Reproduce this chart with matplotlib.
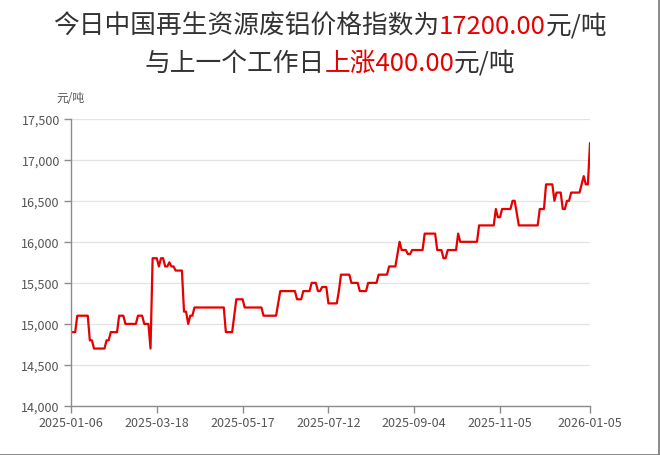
import numpy as np
import matplotlib
matplotlib.use('Agg')
import matplotlib.pyplot as plt
from matplotlib.ticker import FuncFormatter
from matplotlib.lines import Line2D

plt.rcParams['font.family'] = ['Noto Sans CJK SC', 'DejaVu Sans']

# price levels (yuan/ton) and how many working days each level lasted
levels = [14900, 15100, 14800, 14700, 14800, 14900, 15100, 15000, 15100, 15000,
          14700, 15800, 15700, 15800, 15700, 15750, 15700, 15650, 15150, 15000,
          15100, 15200, 14900, 15100, 15300, 15200, 15100, 15250, 15400, 15300,
          15400, 15500, 15400, 15450, 15250, 15400, 15600, 15500, 15400, 15500,
          15600, 15700, 15850, 16000, 15900, 15850, 15900, 16100, 15900, 15800,
          15900, 16100, 16000, 16200, 16400, 16300, 16400, 16500, 16350, 16200,
          16400, 16700, 16500, 16600, 16400, 16500, 16600, 16700, 16800, 16700,
          17200]
counts = [3, 6, 2, 6, 2, 4, 3, 6, 3, 3,
          1, 3, 1, 2, 2, 1, 2, 4, 2, 1,
          2, 15, 4, 1, 4, 9, 7, 1, 8, 3,
          4, 3, 2, 3, 5, 1, 5, 4, 4, 5,
          5, 4, 1, 1, 3, 2, 6, 6, 3, 2,
          5, 1, 9, 8, 1, 2, 5, 2, 1, 10,
          3, 4, 1, 3, 2, 2, 5, 1, 1, 2,
          1]
tick_idx = [0, 41, 82, 123, 164, 205, 248]
tick_labels = ['2025-01-06', '2025-03-18', '2025-05-17', '2025-07-12',
               '2025-09-04', '2025-11-05', '2026-01-05']

price = np.repeat(levels, counts)
x = np.arange(len(price))

W, H = 660, 456
fig = plt.figure(figsize=(W / 100, H / 100), dpi=100)
ax = fig.add_axes([71 / W, 1 - 407 / H, (590 - 71) / W, (407 - 119.7) / H])

ax.plot(x, price, color='#e60000', linewidth=1.6, solid_joinstyle='round')

ax.set_xlim(0, len(price) - 1)
ax.set_ylim(14000, 17500)
ax.set_yticks(np.arange(14000, 17501, 500))
ax.yaxis.set_major_formatter(FuncFormatter(lambda v, p: f'{int(v):,}'))
ax.set_xticks(tick_idx)
ax.set_xticklabels(tick_labels)

ax.grid(axis='y', color='#e3e3e3', linewidth=0.9)
ax.set_axisbelow(True)
for s in ['top', 'right']:
    ax.spines[s].set_visible(False)
for s in ['left', 'bottom']:
    ax.spines[s].set_color('#8c8c8c')
    ax.spines[s].set_linewidth(1.0)
ax.tick_params(axis='both', colors='#8c8c8c', length=5, width=1.0,
               labelcolor='#555555', labelsize=9)
ax.tick_params(axis='y', pad=3)
ax.tick_params(axis='x', pad=2)

fig.text(70 / W, 1 - 98 / H, '元/吨', ha='center', va='center',
         fontsize=8.5, color='#555555')

# two-line title with red highlights
renderer = fig.canvas.get_renderer()


def draw_title(parts, y_px):
    texts = [fig.text(0, 1 - y_px / H, s, color=c, fontsize=18.5,
                      ha='left', va='center') for s, c in parts]
    widths = [t.get_window_extent(renderer).width for t in texts]
    x0 = (W - sum(widths)) / 2
    for t, w in zip(texts, widths):
        t.set_x(x0 / W)
        x0 += w


dark, red = '#333333', '#e60000'
draw_title([('今日中国再生资源废铝价格指数为', dark), ('17200.00', red),
            ('元/吨', dark)], 27)
draw_title([('与上一个工作日', dark), ('上涨400.00', red), ('元/吨', dark)], 64)

# screenshot frame on right and bottom edges
fig.add_artist(Line2D([0, 1], [0.5 / H, 0.5 / H], color='#777777', linewidth=1.2))
fig.add_artist(Line2D([1 - 1.5 / W, 1 - 1.5 / W], [0, 1], color='#777777', linewidth=1.2))

fig.savefig('out.png', dpi=100)
